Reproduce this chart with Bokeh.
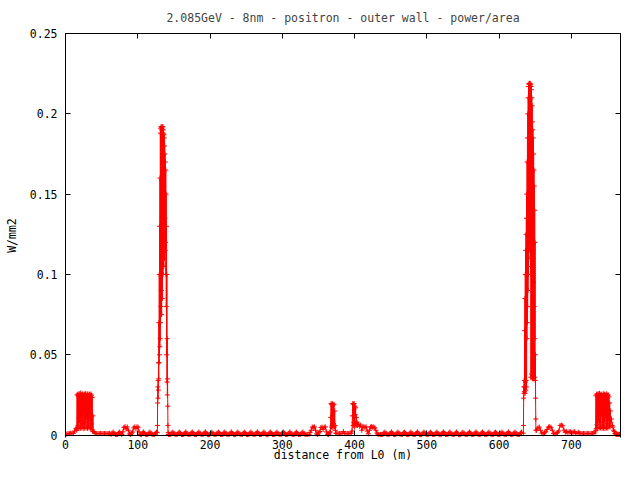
import numpy as np
from bokeh.plotting import figure
from bokeh.models import Range1d, FixedTicker, LinearAxis, CustomJSTickFormatter
from bokeh.embed import file_html
from bokeh.resources import INLINE

TITLE = "2.085GeV - 8nm - positron - outer wall - power/area"
X_LABEL = "distance from L0 (m)"
Y_LABEL = "W/mm2"
x_ticks = [0, 100, 200, 300, 400, 500, 600, 700]
y_ticks = [0, 0.05, 0.1, 0.15, 0.2, 0.25]

# power/area (W/mm2), region by region;
# each region is sampled from its start distance (m) with a fixed step (m)
pw_entry = [0.0008, 0.0006, 0.0010, 0.0009, 0.0012, 0.0010, 0.0011, 0.0025, 0.0042]
pw_block1 = [0.0030, 0.0250, 0.0045, 0.0255, 0.0060, 0.0245, 0.0040, 0.0258, 0.0090, 0.0240,
             0.0042, 0.0262, 0.0120, 0.0250, 0.0045, 0.0248, 0.0070, 0.0257, 0.0041, 0.0240,
             0.0150, 0.0255, 0.0043, 0.0250, 0.0080, 0.0260, 0.0044, 0.0238, 0.0110, 0.0252,
             0.0042, 0.0258, 0.0060, 0.0245, 0.0045, 0.0253, 0.0100, 0.0240, 0.0043, 0.0256,
             0.0070, 0.0248, 0.0035, 0.0235, 0.0025, 0.0120, 0.0022]
pw_flat1 = [0.0020, 0.0010, 0.0009, 0.0010, 0.0009, 0.0010, 0.0009, 0.0010, 0.0010, 0.0009,
            0.0010, 0.0009, 0.0011]
pw_arc1 = [0.0004, 0.0012, 0.0019, 0.0011, 0.0004, 0.0003, 0.0004, 0.0013, 0.0019, 0.0011,
           0.0004, 0.0020, 0.0048, 0.0052, 0.0038, 0.0051, 0.0030, 0.0008, 0.0004, 0.0012,
           0.0019, 0.0045, 0.0051, 0.0040, 0.0052, 0.0049, 0.0020, 0.0004, 0.0003, 0.0012,
           0.0019, 0.0011, 0.0004, 0.0003, 0.0004, 0.0013, 0.0019, 0.0011, 0.0004, 0.0003,
           0.0004, 0.0012, 0.0018]
pw_peak1 = [0.0015, 0.0060, 0.0200, 0.0300, 0.0230, 0.0340, 0.0280, 0.0450, 0.0350, 0.0700,
            0.0450, 0.1000, 0.0500, 0.1300, 0.0550, 0.1600, 0.0600, 0.1880, 0.0700, 0.1910,
            0.0800, 0.1920, 0.0900, 0.1900, 0.0750, 0.1915, 0.1000, 0.1920, 0.0850, 0.1905,
            0.1100, 0.1920, 0.1000, 0.1900, 0.1200, 0.1880, 0.1050, 0.1870, 0.1300, 0.1850,
            0.1100, 0.1800, 0.1350, 0.1750, 0.1150, 0.1700, 0.1200, 0.1650, 0.1000, 0.1500,
            0.0800, 0.1300, 0.0500, 0.1000, 0.0330, 0.0600, 0.0250, 0.0350, 0.0180, 0.0060,
            0.0015]
pw_arc2 = [0.0004, 0.0003, 0.0004, 0.0012, 0.0019, 0.0011, 0.0005, 0.0003, 0.0004, 0.0013,
           0.0018, 0.0012, 0.0004, 0.0002, 0.0004, 0.0012, 0.0020, 0.0011, 0.0003, 0.0004,
           0.0005, 0.0014, 0.0019, 0.0010, 0.0004, 0.0003, 0.0004, 0.0012, 0.0019, 0.0012,
           0.0005, 0.0003, 0.0004, 0.0013, 0.0020, 0.0011, 0.0004, 0.0001, 0.0003, 0.0012,
           0.0018, 0.0011, 0.0004, 0.0003, 0.0005, 0.0012, 0.0019, 0.0013, 0.0004, 0.0003,
           0.0004, 0.0014, 0.0019, 0.0011, 0.0003, 0.0004, 0.0004, 0.0012, 0.0020, 0.0011,
           0.0004, 0.0003, 0.0004, 0.0013, 0.0019, 0.0010, 0.0005, 0.0003, 0.0004, 0.0012,
           0.0018, 0.0012, 0.0004, 0.0002, 0.0004, 0.0012, 0.0019, 0.0011, 0.0004, 0.0003,
           0.0005, 0.0013, 0.0020, 0.0011, 0.0004, 0.0003, 0.0004, 0.0012, 0.0019, 0.0012,
           0.0003, 0.0000, 0.0004, 0.0014, 0.0019, 0.0011, 0.0004, 0.0003, 0.0004, 0.0012,
           0.0018, 0.0011, 0.0005, 0.0003, 0.0004, 0.0013, 0.0019, 0.0012, 0.0004, 0.0003,
           0.0004, 0.0012, 0.0020, 0.0011, 0.0004, 0.0002, 0.0004, 0.0012, 0.0019, 0.0010,
           0.0004, 0.0003, 0.0005, 0.0013, 0.0019, 0.0011, 0.0004, 0.0003, 0.0004]
pw_mid_bumps = [0.0005, 0.0017, 0.0030, 0.0050, 0.0048, 0.0051, 0.0030, 0.0008, 0.0004, 0.0015,
                0.0022, 0.0047, 0.0050, 0.0035, 0.0049, 0.0051, 0.0020, 0.0006, 0.0004, 0.0015]
pw_spike1 = [0.0020, 0.0110, 0.0196, 0.0050, 0.0190, 0.0060, 0.0195, 0.0045, 0.0188, 0.0070,
             0.0192, 0.0050, 0.0150, 0.0060, 0.0030, 0.0012]
pw_flat2 = [0.0010, 0.0009, 0.0010, 0.0009, 0.0010, 0.0022, 0.0010, 0.0009, 0.0010, 0.0009,
            0.0010, 0.0012]
pw_spike2 = [0.0025, 0.0120, 0.0196, 0.0060, 0.0192, 0.0080, 0.0196, 0.0050, 0.0180, 0.0127,
             0.0170, 0.0070, 0.0110, 0.0065, 0.0080, 0.0060]
pw_mid_tail = [0.0068, 0.0055, 0.0062, 0.0030, 0.0050, 0.0052, 0.0048, 0.0051, 0.0025, 0.0008,
               0.0030, 0.0050, 0.0052, 0.0049, 0.0051, 0.0045, 0.0030, 0.0012, 0.0005, 0.0004]
pw_arc3 = [0.0004, 0.0003, 0.0004, 0.0013, 0.0019, 0.0011, 0.0004, 0.0003, 0.0005, 0.0012,
           0.0020, 0.0011, 0.0004, 0.0002, 0.0004, 0.0012, 0.0019, 0.0012, 0.0005, 0.0003,
           0.0004, 0.0014, 0.0018, 0.0011, 0.0004, 0.0003, 0.0004, 0.0012, 0.0019, 0.0010,
           0.0003, 0.0004, 0.0004, 0.0013, 0.0020, 0.0011, 0.0004, 0.0001, 0.0004, 0.0012,
           0.0019, 0.0012, 0.0005, 0.0003, 0.0004, 0.0012, 0.0018, 0.0011, 0.0004, 0.0003,
           0.0004, 0.0013, 0.0019, 0.0011, 0.0004, 0.0002, 0.0005, 0.0012, 0.0020, 0.0012,
           0.0004, 0.0003, 0.0004, 0.0014, 0.0019, 0.0010, 0.0004, 0.0003, 0.0004, 0.0012,
           0.0019, 0.0011, 0.0003, 0.0000, 0.0004, 0.0013, 0.0018, 0.0011, 0.0004, 0.0003,
           0.0005, 0.0012, 0.0019, 0.0012, 0.0004, 0.0003, 0.0004, 0.0012, 0.0020, 0.0011,
           0.0004, 0.0002, 0.0004, 0.0013, 0.0019, 0.0011, 0.0005, 0.0003, 0.0004, 0.0012,
           0.0019, 0.0010, 0.0004, 0.0003, 0.0004, 0.0014, 0.0018, 0.0012, 0.0004, 0.0003,
           0.0004, 0.0012, 0.0019, 0.0011, 0.0003, 0.0004, 0.0005, 0.0012, 0.0020, 0.0011,
           0.0004, 0.0003, 0.0004, 0.0013, 0.0019, 0.0011, 0.0004, 0.0003, 0.0004, 0.0012,
           0.0018]
pw_peak2 = [0.0012, 0.0060, 0.0230, 0.0300, 0.0260, 0.0340, 0.0270, 0.0650, 0.0300, 0.0850,
            0.0260, 0.1000, 0.0330, 0.1150, 0.0280, 0.1250, 0.0340, 0.1350, 0.0300, 0.1500,
            0.0600, 0.1700, 0.0700, 0.1850, 0.0800, 0.2000, 0.0900, 0.2100, 0.1000, 0.2170,
            0.1100, 0.2185, 0.1200, 0.2190, 0.1300, 0.2185, 0.1150, 0.2190, 0.1250, 0.2180,
            0.1050, 0.2185, 0.0360, 0.2170, 0.1000, 0.2150, 0.0380, 0.2100, 0.1200, 0.2050,
            0.0350, 0.1950, 0.1100, 0.1900, 0.0370, 0.1850, 0.0950, 0.1750, 0.0350, 0.1650,
            0.0800, 0.1550, 0.0360, 0.1400, 0.0600, 0.1200, 0.0340, 0.0500, 0.0230, 0.0100,
            0.0030]
pw_after2 = [0.0030, 0.0045, 0.0050, 0.0030, 0.0012, 0.0008, 0.0015, 0.0020, 0.0035, 0.0050,
             0.0052, 0.0049, 0.0030, 0.0010, 0.0007, 0.0012, 0.0015, 0.0025, 0.0060, 0.0062,
             0.0058, 0.0030, 0.0018, 0.0021, 0.0015, 0.0021, 0.0020, 0.0012, 0.0018, 0.0021,
             0.0013, 0.0010, 0.0018, 0.0012]
pw_flat3 = [0.0010, 0.0009, 0.0010, 0.0010, 0.0009, 0.0010, 0.0010, 0.0009, 0.0010, 0.0010,
            0.0011, 0.0020]
pw_block2 = [0.0030, 0.0245, 0.0042, 0.0255, 0.0065, 0.0250, 0.0041, 0.0258, 0.0100, 0.0242,
             0.0043, 0.0260, 0.0080, 0.0248, 0.0044, 0.0255, 0.0130, 0.0250, 0.0042, 0.0245,
             0.0060, 0.0258, 0.0043, 0.0250, 0.0090, 0.0255, 0.0041, 0.0240, 0.0120, 0.0252,
             0.0044, 0.0257, 0.0070, 0.0246, 0.0043, 0.0250, 0.0100, 0.0238, 0.0060, 0.0200,
             0.0050, 0.0150]
pw_exit = [0.0080, 0.0100, 0.0060, 0.0050, 0.0030, 0.0022, 0.0010, 0.0006, 0.0005, 0.0004,
           0.0005, 0.0004, 0.0005, 0.0004]

seg_start = [0.0, 15.5, 39.5, 62.9, 127.0, 142.5, 337.0, 366.5, 375.5, 396.5, 405.5,
             436.0, 633.5, 652.0, 713.2, 733.5, 754.5]
seg_step = [1.8, 0.5, 1.8, 1.5, 0.25, 1.5, 1.5, 0.5, 1.8, 0.5, 1.5,
            1.5, 0.25, 1.8, 1.8, 0.5, 1.0]
seg_power = [pw_entry, pw_block1, pw_flat1, pw_arc1, pw_peak1, pw_arc2, pw_mid_bumps,
             pw_spike1, pw_flat2, pw_spike2, pw_mid_tail, pw_arc3, pw_peak2, pw_after2,
             pw_flat3, pw_block2, pw_exit]

distance, power = [], []
for s0, ds, vals in zip(seg_start, seg_step, seg_power):
    for i, v in enumerate(vals):
        distance.append(round(s0 + i * ds, 3))
        power.append(v)

FONT = "DejaVu Sans Mono"
FS = "11.5px"

# the range starts a hair below zero so that the '+' marks sitting on zero are not cut;
# the x axis line and its ticks are drawn at zero
p = figure(width=624, height=464, x_range=Range1d(0, 768), y_range=Range1d(-0.0015, 0.25),
           output_backend="svg", toolbar_location=None,
           min_border_left=65, min_border_right=4, min_border_top=32, min_border_bottom=24)
p.title.text = TITLE
p.title.text_font = FONT
p.title.text_font_size = FS
p.title.text_font_style = "normal"
p.title.align = "center"
p.title.standoff = 17
p.xgrid.visible = False
p.ygrid.visible = False
p.outline_line_color = None
p.background_fill_color = "white"
p.border_fill_color = "white"

no_labels = CustomJSTickFormatter(code="return '';")

zero_axis = p.below[0]
left_axis = p.left[0]
zero_axis.ticker = FixedTicker(ticks=x_ticks)
zero_axis.fixed_location = 0
zero_axis.formatter = no_labels
zero_axis.major_label_standoff = 0

label_axis = LinearAxis(ticker=FixedTicker(ticks=x_ticks), axis_label=X_LABEL)
p.add_layout(label_axis, "below")

left_axis.ticker = FixedTicker(ticks=y_ticks)
left_axis.formatter = CustomJSTickFormatter(code="return String(Number(tick.toFixed(4)));")
left_axis.major_label_standoff = 8
left_axis.axis_label = Y_LABEL
left_axis.axis_label_standoff = 8

top_axis = LinearAxis(ticker=FixedTicker(ticks=x_ticks), formatter=no_labels)
right_axis = LinearAxis(ticker=FixedTicker(ticks=y_ticks), formatter=no_labels)
p.add_layout(top_axis, "above")
p.add_layout(right_axis, "right")

for ax in p.axis:
    ax.major_tick_in = 5
    ax.major_tick_out = 0
    ax.minor_tick_in = 0
    ax.minor_tick_out = 0
    ax.axis_line_color = "black"
    ax.major_tick_line_color = "black"
    ax.major_label_text_font = FONT
    ax.major_label_text_font_size = FS
    ax.major_label_text_color = "black"
    ax.axis_label_text_font = FONT
    ax.axis_label_text_font_size = FS
    ax.axis_label_text_font_style = "normal"
    ax.axis_label_text_color = "black"
top_axis.major_label_standoff = 0
right_axis.major_label_standoff = 0

label_axis.axis_line_color = None
label_axis.major_tick_line_color = None
label_axis.major_tick_in = 0
label_axis.major_label_standoff = 2
label_axis.axis_label_standoff = -4

p.line(distance, power, line_color="#ff0000", line_width=1)
p.scatter(distance, power, marker="cross", size=5, line_color="#ff0000", line_width=1)

open("out.html", "w").write(file_html(p, INLINE))
